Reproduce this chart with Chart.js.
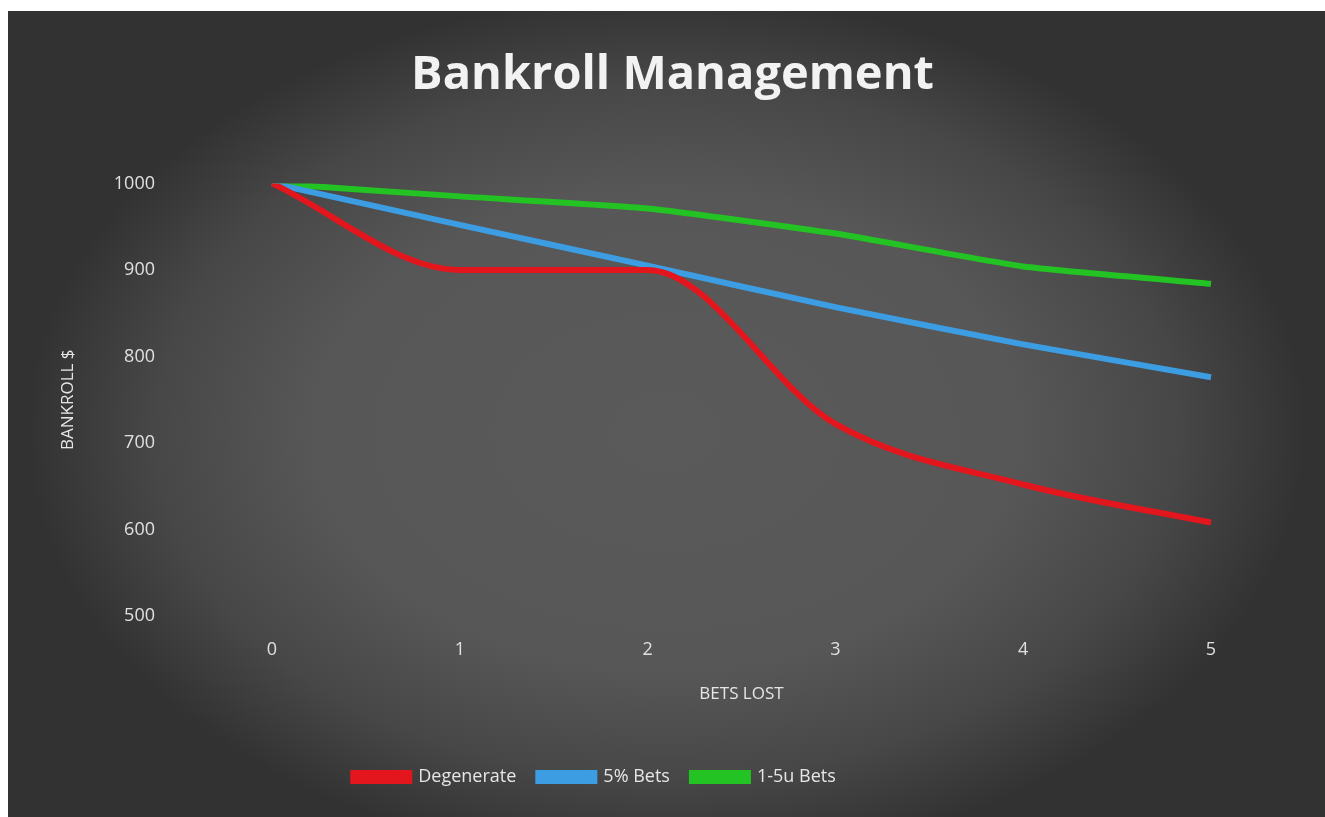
<!DOCTYPE html>
<html>
<head>
<meta charset="utf-8">
<script src="https://cdn.jsdelivr.net/npm/chart.js@4"></script>
<style>
html,body{margin:0;padding:0;background:#ffffff;width:1325px;height:817px;overflow:hidden;}
#wrap{position:absolute;left:8px;top:11px;width:1317px;height:806px;}
</style>
</head>
<body>
<div id="wrap"><canvas id="c"></canvas></div>
<script>
const categories = ["0", "1", "2", "3", "4", "5"];
const degenerate = [1000, 900, 900, 722, 652, 608];
const pctBets = [1000, 952, 905, 857, 814, 776];
const unitBets = [1000, 985, 971, 942, 904, 884];
const seriesNames = ["Degenerate", "5% Bets", "1-5u Bets"];
const yTicks = [500, 600, 700, 800, 900, 1000];

const bgPlugin = {
  id: 'bg',
  beforeDraw(chart) {
    const ctx = chart.ctx;
    const w = chart.width, h = chart.height;
    ctx.save();
    ctx.fillStyle = '#323232';
    ctx.fillRect(0, 0, w, h);
    ctx.translate(w * 0.5, h * 0.52);
    ctx.scale(1, 0.68);
    const r = 640;
    const g = ctx.createRadialGradient(0, 0, 0, 0, 0, r);
    g.addColorStop(0, '#5a5a5a');
    g.addColorStop(0.55, '#575757');
    g.addColorStop(0.8, '#474747');
    g.addColorStop(1, '#323232');
    ctx.fillStyle = g;
    ctx.beginPath();
    ctx.arc(0, 0, r, 0, Math.PI * 2);
    ctx.fill();
    ctx.restore();
  }
};

const shiftPlugin = {
  id: 'shift',
  afterUpdate(chart) {
    if (chart.legend) { chart.legend.left -= 40; chart.legend.right -= 40; }
    if (chart.titleBlock) { chart.titleBlock.left += 38; chart.titleBlock.right += 38; }
  }
};

new Chart(document.getElementById('c'), {
  type: 'line',
  data: {
    labels: categories,
    datasets: [
      { label: seriesNames[0], data: degenerate, borderColor: '#e3161e', backgroundColor: '#e3161e', borderWidth: 6, pointRadius: 0, cubicInterpolationMode: 'monotone' },
      { label: seriesNames[1], data: pctBets, borderColor: '#3d9de2', backgroundColor: '#3d9de2', borderWidth: 6, pointRadius: 0, tension: 0.15 },
      { label: seriesNames[2], data: unitBets, borderColor: '#22c322', backgroundColor: '#22c322', borderWidth: 6, pointRadius: 0, tension: 0.15 }
    ]
  },
  options: {
    responsive: true,
    maintainAspectRatio: false,
    animation: false,
    layout: { padding: { left: 50, right: 114, top: 20, bottom: 21 } },
    plugins: {
      title: {
        display: true,
        text: 'Bankroll Management',
        color: '#f2f2f2',
        font: { family: 'Open Sans', size: 47, weight: 'bold' },
        padding: { top: 16, bottom: 80 }
      },
      legend: {
        position: 'bottom',
        labels: {
          color: '#e6e6e6',
          font: { family: 'Open Sans', size: 18 },
          boxWidth: 56,
          boxHeight: 8,
          padding: 22
        }
      },
      tooltip: { enabled: false }
    },
    scales: {
      x: {
        grid: { display: false, drawTicks: false },
        border: { display: false },
        ticks: { color: '#e0e0e0', font: { family: 'Open Sans', size: 18 }, padding: 23 },
        title: { display: true, text: 'BETS LOST', color: '#e6e6e6', font: { family: 'Open Sans', size: 17 }, padding: { top: 0, bottom: 42 } }
      },
      y: {
        min: 500, max: 1000,
        afterBuildTicks(axis) { axis.ticks = yTicks.map(v => ({ value: v })); },
        afterFit(axis) { axis.width = 214; },
        grid: { display: false, drawTicks: false },
        border: { display: false },
        ticks: { color: '#e0e0e0', font: { family: 'Open Sans', size: 18 }, padding: 117, callback: v => String(v) },
        title: { display: true, text: 'BANKROLL $', color: '#e6e6e6', font: { family: 'Open Sans', size: 17 }, padding: { top: 0, bottom: 10 } }
      }
    }
  },
  plugins: [bgPlugin, shiftPlugin]
});
</script>
</body>
</html>
